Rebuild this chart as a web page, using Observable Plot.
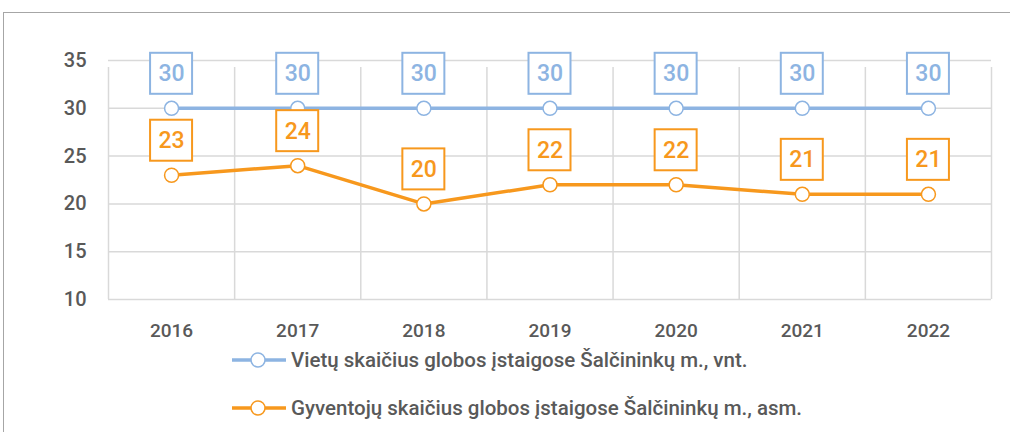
<!DOCTYPE html>
<html>
<head>
<meta charset="utf-8">
<script src="https://cdn.jsdelivr.net/npm/d3@7"></script>
<script src="https://cdn.jsdelivr.net/npm/@observablehq/plot@0.6"></script>
<style>
  html, body { margin: 0; padding: 0; background: #fff; overflow: hidden; width: 1010px; height: 432px; }
  #frame { position: absolute; left: 3px; top: 12px; width: 1100px; height: 500px; border: 1.5px solid #a6a6a6; box-sizing: border-box; }
  #chart { position: absolute; left: 0; top: 0; }
  #legend { position: absolute; left: 0; top: 0; font-family: "Roboto", sans-serif; font-size: 20.5px; font-weight: 500; color: #595959; }
  .item { position: absolute; left: 232px; height: 24px; display: flex; align-items: center; white-space: nowrap; }
  .item svg { margin-right: 5px; }
</style>
</head>
<body>
<div id="frame"></div>
<div id="chart"></div>
<div id="legend"></div>
<script>
const years = [2016, 2017, 2018, 2019, 2020, 2021, 2022];
const vietos = [30, 30, 30, 30, 30, 30, 30];
const gyventojai = [23, 24, 20, 22, 22, 21, 21];
const seriesNames = [
  "Vietų skaičius globos įstaigose Šalčininkų m., vnt.",
  "Gyventojų skaičius globos įstaigose Šalčininkų m., asm."
];
const seriesColors = ["#8db4e2", "#f7981d"];
const yTicks = [10, 15, 20, 25, 30, 35];

const FONT = '"Roboto", sans-serif';
const TEXT = "#595959";
const GRID = "#d9d9d9";

const rows = [];
years.forEach((y, i) => rows.push({year: y, value: vietos[i], series: seriesNames[0]}));
years.forEach((y, i) => rows.push({year: y, value: gyventojai[i], series: seriesNames[1]}));

const xMin = years[0] - 0.5, xMax = years[years.length - 1] + 0.5;
const bounds = years.map(y => y - 0.5).concat([xMax]);

const chart = Plot.plot({
  width: 1010,
  height: 345,
  marginLeft: 108,
  marginRight: 19,
  marginTop: 60,
  marginBottom: 46,
  style: {fontFamily: FONT, background: "transparent"},
  x: {domain: [xMin, xMax], axis: null},
  y: {domain: [yTicks[0], yTicks[yTicks.length - 1]], axis: null},
  color: {domain: seriesNames, range: seriesColors},
  marks: [
    Plot.ruleY(yTicks, {x1: xMin, x2: xMax, stroke: GRID, strokeWidth: 1.5}),
    Plot.ruleX(bounds, {y1: yTicks[0], y2: yTicks[yTicks.length - 1], insetBottom: -7, stroke: GRID, strokeWidth: 1.5}),
    Plot.text(yTicks, {x: xMin, y: d => d, text: d => String(d), textAnchor: "end", dx: -22, fontSize: 20, fontWeight: 500, fill: TEXT, fontFamily: FONT}),
    Plot.text(years, {x: d => d, y: yTicks[0], text: d => String(d), dy: 31, fontSize: 19, fontWeight: 500, fill: TEXT, fontFamily: FONT}),
    Plot.line(rows, {x: "year", y: "value", z: "series", stroke: "series", strokeWidth: 3.5}),
    Plot.dot(rows, {x: "year", y: "value", r: 7, fill: "white", stroke: "series", strokeWidth: 1.5}),
    Plot.rect(rows, {x1: "year", x2: "year", y1: "value", y2: "value", insetLeft: -21, insetRight: -21, insetTop: -55, insetBottom: 14, fill: "white", stroke: "series", strokeWidth: 2}),
    Plot.text(rows, {x: "year", y: "value", text: d => String(d.value), dy: -34.5, fill: "series", fontSize: 23, fontWeight: 500, fontFamily: FONT})
  ]
});
document.getElementById("chart").appendChild(chart);

const legend = document.getElementById("legend");
const tops = [348, 396];
seriesNames.forEach((name, i) => {
  const div = document.createElement("div");
  div.className = "item";
  div.style.top = tops[i] + "px";
  div.innerHTML = `<svg width="54" height="18"><line x1="0" x2="54" y1="9" y2="9" stroke="${seriesColors[i]}" stroke-width="3.5"/><circle cx="26" cy="9" r="7" fill="white" stroke="${seriesColors[i]}" stroke-width="1.5"/></svg><span>${name}</span>`;
  legend.appendChild(div);
});
</script>
</body>
</html>
